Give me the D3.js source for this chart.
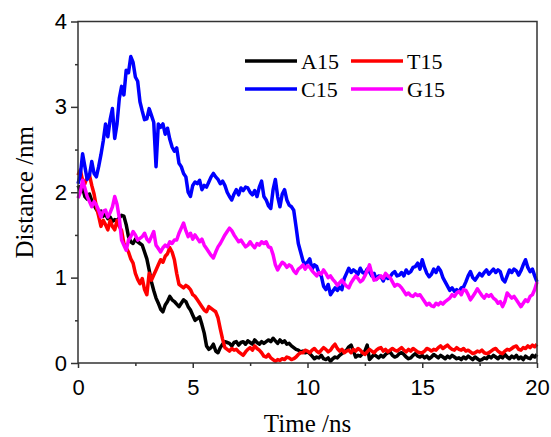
<!DOCTYPE html>
<html>
<head>
<meta charset="utf-8">
<script src="https://cdn.jsdelivr.net/npm/d3@7/dist/d3.min.js"></script>
<style>
  body { margin: 0; background: #fff; }
  svg { display: block; font-family: "Liberation Serif", "Times New Roman", serif; }
</style>
</head>
<body>
<svg id="chart" width="551" height="437"></svg>
<script>
// distance traces, one sample every 0.1 ns from 0 to 20 ns
const timeStep = 0.1;

const a15 = [
  2.08, 2.02, 2.05, 1.95, 1.92, 1.98, 1.90, 1.85, 1.80, 1.76,
  1.78, 1.72, 1.74, 1.69, 1.71, 1.66, 1.68, 1.67, 1.70, 1.73,
  1.72, 1.62, 1.48, 1.42, 1.40, 1.45, 1.42, 1.40, 1.38, 1.30,
  1.22, 1.09, 0.95, 0.85, 0.76, 0.70, 0.63, 0.60, 0.68, 0.72,
  0.78, 0.74, 0.72, 0.69, 0.66, 0.70, 0.74, 0.72, 0.66, 0.62,
  0.56, 0.50, 0.52, 0.54, 0.45, 0.35, 0.20, 0.16, 0.18, 0.22,
  0.14, 0.12, 0.18, 0.22, 0.25, 0.24, 0.23, 0.20, 0.24, 0.25,
  0.21, 0.24, 0.25, 0.22, 0.26, 0.24, 0.22, 0.27, 0.24, 0.22,
  0.25, 0.23, 0.25, 0.27, 0.25, 0.29, 0.26, 0.23, 0.27, 0.24,
  0.26, 0.22, 0.23, 0.20, 0.18, 0.16, 0.15, 0.13, 0.14, 0.12,
  0.13, 0.11, 0.08, 0.05, 0.07, 0.06, 0.09, 0.05, 0.04, 0.06,
  0.02, 0.05, 0.07, 0.06, 0.09, 0.11, 0.13, 0.15, 0.19, 0.21,
  0.14, 0.07, 0.09, 0.08, 0.11, 0.14, 0.21, 0.04, 0.07, 0.10,
  0.08, 0.06, 0.09, 0.07, 0.10, 0.12, 0.13, 0.09, 0.07, 0.08,
  0.11, 0.12, 0.10, 0.07, 0.05, 0.06, 0.09, 0.11, 0.08, 0.07,
  0.09, 0.06, 0.08, 0.05, 0.07, 0.10, 0.08, 0.06, 0.09, 0.07,
  0.05, 0.08, 0.06, 0.09, 0.07, 0.05, 0.06, 0.04, 0.07, 0.05,
  0.08, 0.06, 0.04, 0.07, 0.05, 0.03, 0.04, 0.06, 0.05, 0.08,
  0.06, 0.09, 0.07, 0.05, 0.08, 0.06, 0.10, 0.07, 0.05, 0.08,
  0.06, 0.09, 0.05, 0.07, 0.04, 0.08, 0.06, 0.05, 0.09, 0.07,
  0.10
];

const t15 = [
  2.20, 2.26, 2.14, 2.10, 2.18, 2.20, 2.08, 1.98, 1.83, 1.72,
  1.60, 1.67, 1.62, 1.56, 1.67, 1.60, 1.56, 1.67, 1.60, 1.55,
  1.40, 1.35, 1.30, 1.22, 1.17, 1.05, 0.98, 0.93, 0.99, 0.86,
  0.80, 1.05, 0.97, 1.03, 1.09, 1.15, 1.21, 1.18, 1.25, 1.28,
  1.35, 1.30, 1.21, 1.05, 0.92, 0.90, 0.88, 0.91, 0.89, 0.86,
  0.80, 0.78, 0.74, 0.70, 0.66, 0.62, 0.60, 0.66, 0.64, 0.62,
  0.60, 0.53, 0.40, 0.28, 0.18, 0.16, 0.14, 0.17, 0.15, 0.16,
  0.13, 0.11, 0.09, 0.13, 0.16, 0.18, 0.15, 0.20, 0.17, 0.15,
  0.12, 0.08, 0.07, 0.10, 0.06, 0.04, 0.02, 0.04, 0.03, 0.05,
  0.04, 0.07, 0.06, 0.04, 0.05, 0.07, 0.10, 0.12, 0.12, 0.15,
  0.14, 0.12, 0.15, 0.17, 0.14, 0.12, 0.15, 0.18, 0.16, 0.13,
  0.15, 0.19, 0.22, 0.17, 0.14, 0.16, 0.12, 0.14, 0.15, 0.12,
  0.16, 0.14, 0.17, 0.15, 0.12, 0.10, 0.13, 0.16, 0.14, 0.12,
  0.15, 0.17, 0.18, 0.14, 0.16, 0.13, 0.15, 0.17, 0.15, 0.14,
  0.16, 0.18, 0.15, 0.13, 0.16, 0.14, 0.17, 0.15, 0.13, 0.12,
  0.12, 0.14, 0.17, 0.16, 0.14, 0.16, 0.15, 0.18, 0.20, 0.17,
  0.19, 0.21, 0.18, 0.16, 0.15, 0.18, 0.16, 0.15, 0.17, 0.14,
  0.15, 0.13, 0.11, 0.12, 0.14, 0.13, 0.15, 0.12, 0.11, 0.12,
  0.14, 0.16, 0.17, 0.14, 0.12, 0.11, 0.14, 0.16, 0.15, 0.17,
  0.19, 0.20, 0.16, 0.15, 0.18, 0.17, 0.20, 0.18, 0.21, 0.19,
  0.22
];

const c15 = [
  2.10, 2.20, 2.45, 2.30, 2.15, 2.20, 2.36, 2.22, 2.18, 2.30,
  2.44, 2.60, 2.80, 2.65, 2.85, 2.98, 2.63, 2.80, 3.10, 3.24,
  3.14, 3.43, 3.40, 3.59, 3.52, 3.35, 3.30, 3.06, 2.95, 2.85,
  2.86, 2.98, 2.90, 2.82, 2.30, 2.80, 2.76, 2.80, 2.68, 2.75,
  2.62, 2.53, 2.48, 2.52, 2.34, 2.30, 2.22, 2.18, 2.00, 1.95,
  2.08, 2.12, 2.10, 2.14, 2.03, 2.08, 2.06, 2.12, 2.18, 2.22,
  2.18, 2.15, 2.10, 2.13, 2.08, 2.00, 1.95, 1.91, 1.98, 2.03,
  1.97, 2.05, 2.02, 2.06, 2.05, 2.00, 1.97, 2.02, 1.95, 2.06,
  2.13, 1.95, 1.91, 1.84, 1.81, 2.03, 2.15, 1.95, 1.83, 1.98,
  2.03, 1.91, 1.85, 1.83, 1.79, 1.60, 1.40, 1.30, 1.20, 1.15,
  1.18, 1.22, 1.10, 1.15, 1.13, 1.05, 1.02, 0.90, 0.86, 0.92,
  0.80, 0.84, 0.88, 0.85, 0.89, 0.86, 0.99, 1.05, 1.11, 1.06,
  1.09, 1.07, 1.04, 1.11, 1.06, 1.05, 1.10, 1.07, 1.02, 1.05,
  0.98, 1.02, 1.01, 0.96, 1.03, 0.99, 1.01, 1.05, 1.07, 1.02,
  1.03, 1.06, 1.02, 1.09, 1.05, 1.07, 1.12, 1.13, 1.17, 1.10,
  1.21, 1.12, 1.05, 1.01, 1.04, 1.10, 1.06, 1.12, 1.08, 1.00,
  0.95, 0.90, 0.85, 0.88, 0.84, 0.86, 0.83, 0.88, 0.89, 0.95,
  1.02, 1.07, 1.00, 0.97, 1.01, 1.05, 1.02, 1.06, 1.09, 1.04,
  1.07, 1.10, 1.06, 1.09, 1.07, 0.98, 0.95, 1.02, 1.09, 1.06,
  1.10, 1.08, 1.03, 1.08, 1.15, 1.21, 1.12, 1.07, 1.10, 1.02,
  0.95
];

const g15 = [
  1.93, 2.00, 2.14, 2.05, 1.95, 1.89, 1.83, 1.89, 1.85, 1.79,
  1.71, 1.78, 1.79, 1.71, 1.76, 1.83, 1.95, 1.86, 1.70, 1.44,
  1.38, 1.32, 1.44, 1.48, 1.54, 1.50, 1.44, 1.46, 1.48, 1.52,
  1.45, 1.42, 1.48, 1.54, 1.38, 1.34, 1.30, 1.35, 1.38, 1.36,
  1.42, 1.40, 1.44, 1.44, 1.52, 1.58, 1.64, 1.55, 1.48, 1.52,
  1.45, 1.50, 1.46, 1.42, 1.45, 1.38, 1.34, 1.30, 1.26, 1.23,
  1.30, 1.36, 1.40, 1.45, 1.50, 1.54, 1.58, 1.55, 1.50, 1.46,
  1.42, 1.44, 1.40, 1.36, 1.38, 1.42, 1.38, 1.35, 1.40, 1.38,
  1.42, 1.40, 1.42, 1.36, 1.35, 1.27, 1.15, 1.09, 1.14, 1.18,
  1.16, 1.12, 1.15, 1.13, 1.08, 1.05, 1.10, 1.12, 1.15, 1.10,
  1.14, 1.12, 1.08, 1.05, 1.02, 1.06, 1.04, 1.09, 1.05, 1.00,
  1.02, 0.98, 0.95, 0.91, 0.94, 0.97, 0.93, 0.90, 0.88, 0.94,
  0.98, 1.02, 0.99, 0.95, 0.97, 1.02, 1.08, 1.15, 1.05, 0.97,
  0.98, 1.00, 1.02, 0.99, 1.05, 1.02, 1.00, 0.95, 0.90, 0.92,
  0.91, 0.88, 0.84, 0.80, 0.82, 0.79, 0.78, 0.81, 0.79, 0.80,
  0.76, 0.72, 0.68, 0.70, 0.67, 0.66, 0.70, 0.68, 0.71, 0.69,
  0.72, 0.74, 0.76, 0.80, 0.78, 0.82, 0.84, 0.80, 0.86, 0.85,
  0.80, 0.74, 0.78, 0.82, 0.87, 0.83, 0.79, 0.76, 0.80, 0.78,
  0.80, 0.76, 0.74, 0.70, 0.72, 0.66, 0.72, 0.82, 0.79, 0.76,
  0.78, 0.74, 0.70, 0.66, 0.70, 0.74, 0.72, 0.78, 0.80, 0.86,
  0.95
];

const seriesNames = ['A15', 'T15', 'C15', 'G15'];
const seriesValues = [a15, t15, c15, g15];
const seriesColors = ['#000000', '#ff0000', '#0000ff', '#ff00ff'];

const xTicks = [0, 5, 10, 15, 20];
const xMinorTicks = [2.5, 7.5, 12.5, 17.5];
const yTicks = [0, 1, 2, 3, 4];
const yMinorTicks = [0.5, 1.5, 2.5, 3.5];

const width = 551;
const height = 437;
const margin = { top: 21.5, right: 14, bottom: 74, left: 78 };
const innerW = width - margin.left - margin.right;
const innerH = height - margin.top - margin.bottom;
const axisColor = '#333';

const svg = d3.select('#chart');
svg.append('rect').attr('width', width).attr('height', height).attr('fill', '#fff');

const g = svg.append('g').attr('transform', `translate(${margin.left},${margin.top})`);

const x = d3.scaleLinear().domain([0, 20]).range([0, innerW]);
const y = d3.scaleLinear().domain([0, 4]).range([innerH, 0]);

const line = d3.line()
  .x((d, i) => x(i * timeStep))
  .y(d => y(d));

// traces
g.selectAll('path.trace')
  .data(seriesValues)
  .join('path')
  .attr('class', 'trace')
  .attr('fill', 'none')
  .attr('stroke', (d, i) => seriesColors[i])
  .attr('stroke-width', 3.5)
  .attr('stroke-linejoin', 'round')
  .attr('d', line);

// frame
g.append('rect')
  .attr('width', innerW)
  .attr('height', innerH)
  .attr('fill', 'none')
  .attr('stroke', axisColor)
  .attr('stroke-width', 1.5);

function styleAxis (sel) {
  sel.select('.domain').remove();
  sel.selectAll('line').attr('stroke', axisColor).attr('stroke-width', 1.5);
  sel.selectAll('text').attr('fill', '#000').style('font-size', '22px').style('font-family', null);
}

g.append('g')
  .attr('transform', `translate(0,${innerH})`)
  .call(d3.axisBottom(x).tickValues(xTicks).tickSize(5).tickPadding(11).tickFormat(d3.format('d')))
  .call(styleAxis);

g.append('g')
  .attr('transform', `translate(0,${innerH})`)
  .call(d3.axisBottom(x).tickValues(xMinorTicks).tickSize(3).tickFormat(''))
  .call(styleAxis);

g.append('g')
  .call(d3.axisLeft(y).tickValues(yTicks).tickSize(7).tickPadding(4).tickFormat(d3.format('d')))
  .call(styleAxis);

g.append('g')
  .call(d3.axisLeft(y).tickValues(yMinorTicks).tickSize(3).tickFormat(''))
  .call(styleAxis);

// axis titles
svg.append('text')
  .attr('x', margin.left + innerW / 2)
  .attr('y', 432)
  .attr('text-anchor', 'middle')
  .style('font-size', '25px')
  .text('Time /ns');

svg.append('text')
  .attr('transform', `translate(33,${margin.top + innerH / 2}) rotate(-90)`)
  .attr('text-anchor', 'middle')
  .style('font-size', '25px')
  .text('Distance /nm');

// legend, two columns by two rows
const legendCols = [245, 351];
const legendRows = [61, 89];
const legend = svg.append('g');
seriesNames.forEach((name, i) => {
  const lx = legendCols[i % 2];
  const ly = legendRows[Math.floor(i / 2)];
  legend.append('line')
    .attr('x1', lx).attr('x2', lx + 52)
    .attr('y1', ly).attr('y2', ly)
    .attr('stroke', seriesColors[i])
    .attr('stroke-width', 3.5);
  legend.append('text')
    .attr('x', lx + 56)
    .attr('y', ly + 8)
    .style('font-size', '22px')
    .text(name);
});
</script>
</body>
</html>
